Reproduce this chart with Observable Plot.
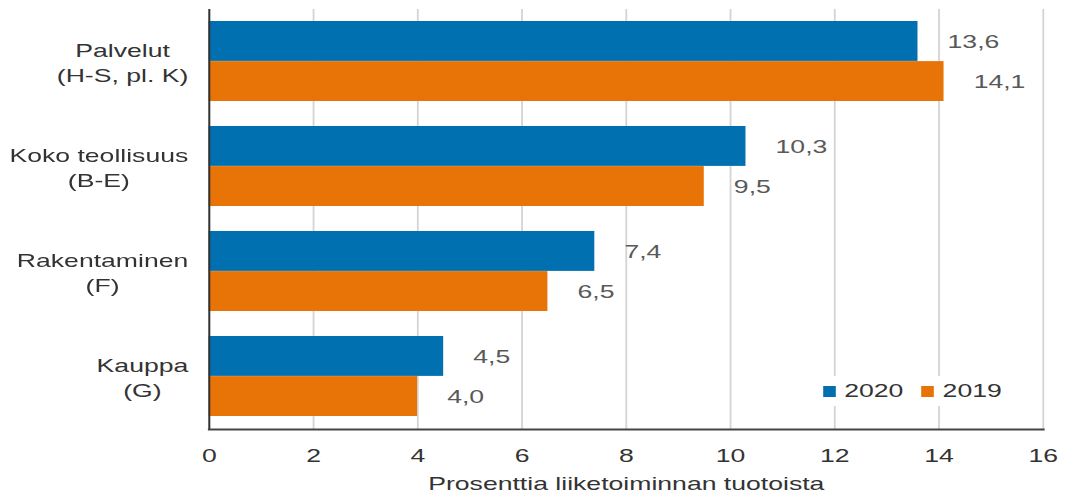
<!DOCTYPE html>
<html>
<head>
<meta charset="utf-8">
<script src="https://cdn.jsdelivr.net/npm/d3@7"></script>
<script src="https://cdn.jsdelivr.net/npm/@observablehq/plot@0.6"></script>
<style>
  html, body { margin: 0; padding: 0; background: #fff; overflow: hidden; }
  #wrap { position: relative; height: 498px; transform-origin: 0 0; }
  #legend {
    position: absolute; background: #fff; display: flex; align-items: center;
    font-family: "Liberation Sans", Arial, sans-serif; font-size: 19px; color: #333;
    padding: 4px 6px;
  }
  #legend .sw { display: inline-block; width: 9px; height: 11px; margin-right: 6px; }
  #legend .item { display: flex; align-items: center; margin-right: 13px; }
  #legend .item:last-child { margin-right: 0; }
</style>
</head>
<body>
<div id="wrap"></div>
<script>
// Industries (two-line labels), values in % of operating revenue
const categories = ["Palvelut\n(H-S, pl. K)", "Koko teollisuus\n(B-E)", "Rakentaminen\n(F)", "Kauppa\n(G)"];
const values2020 = [13.6, 10.3, 7.4, 4.5];
const values2019 = [14.1, 9.5, 6.5, 4.0];
const years = ["2020", "2019"];
const xTicks = [0, 2, 4, 6, 8, 10, 12, 14, 16];
const xTitle = "Prosenttia liiketoiminnan tuotoista";

const colors = {"2020": "#0070b0", "2019": "#e87306"};
const font = "'Liberation Sans', Arial, sans-serif";
const fs = 19;

// The whole figure is drawn narrower and stretched horizontally
const stretch = 1.4;
const W = 1065 / stretch, H = 498;
const mt = 9, mb = 69, ml = 149, mr = 16;

const rows = categories.flatMap((c, i) => [
  {cat: c, year: years[0], value: values2020[i]},
  {cat: c, year: years[1], value: values2019[i]}
]);
const rows2020 = rows.filter(d => d.year === "2020");
const rows2019 = rows.filter(d => d.year === "2019");

const yOpts = {type: "band", domain: categories, range: [mt, H - mb], paddingInner: 0.238, paddingOuter: 0.114};
const bw = Plot.scale({y: yOpts}).bandwidth;

const fmt = v => d3.format(".1f")(v).replace(".", ",");

// measure label widths so each two-line label is centred on its own lines
const ctx = document.createElement("canvas").getContext("2d");
ctx.font = `${fs}px ${font}`;
const labelMarks = categories.map(c => {
  const w = d3.max(c.split("\n"), s => ctx.measureText(s).width);
  return Plot.text([c], {
    x: () => 0, y: d => d, text: d => d,
    textAnchor: "middle", lineAnchor: "middle", lineHeight: 1.33,
    dx: -(15 + w / 2), fontSize: fs, fill: "#333"
  });
});

const chart = Plot.plot({
  width: W, height: H,
  marginTop: mt, marginBottom: mb, marginLeft: ml, marginRight: mr,
  style: {fontFamily: font, background: "#fff", overflow: "visible"},
  x: {domain: [0, 16]},
  y: {...yOpts, axis: null},
  marks: [
    Plot.gridX({ticks: xTicks, stroke: "#d4d4d4", strokeOpacity: 1, strokeWidth: 1.3}),
    Plot.barX(rows2020, {x: "value", y: "cat", fill: colors["2020"], insetBottom: bw / 2}),
    Plot.barX(rows2019, {x: "value", y: "cat", fill: colors["2019"], insetTop: bw / 2}),
    Plot.text(rows2020, {x: "value", y: "cat", text: d => fmt(d.value), dx: 21, dy: -bw / 4,
      textAnchor: "start", fontSize: fs, fill: "#595959"}),
    Plot.text(rows2019, {x: "value", y: "cat", text: d => fmt(d.value), dx: 21, dy: bw / 4,
      textAnchor: "start", fontSize: fs, fill: "#595959"}),
    Plot.ruleX([0], {stroke: "#333", strokeWidth: 1.4}),
    Plot.frame({anchor: "bottom", stroke: "#444", strokeWidth: 2}),
    Plot.axisX({ticks: xTicks, tickSize: 0, tickPadding: 19, fontSize: fs, fill: "#333", label: null}),
    Plot.text([xTitle], {frameAnchor: "bottom", dy: 61, fontSize: fs, fill: "#333"}),
    ...labelMarks
  ]
});

const wrap = document.getElementById("wrap");
wrap.style.width = W + "px";
wrap.style.transform = `scaleX(${stretch})`;
wrap.appendChild(chart);

// legend placed inside the plot area, lower right
const legend = document.createElement("div");
legend.id = "legend";
legend.style.left = "582px";
legend.style.top = "376px";
for (const y of years) {
  const item = document.createElement("div");
  item.className = "item";
  const sw = document.createElement("span");
  sw.className = "sw";
  sw.style.background = colors[y];
  item.appendChild(sw);
  item.appendChild(document.createTextNode(y));
  legend.appendChild(item);
}
wrap.appendChild(legend);
</script>
</body>
</html>
